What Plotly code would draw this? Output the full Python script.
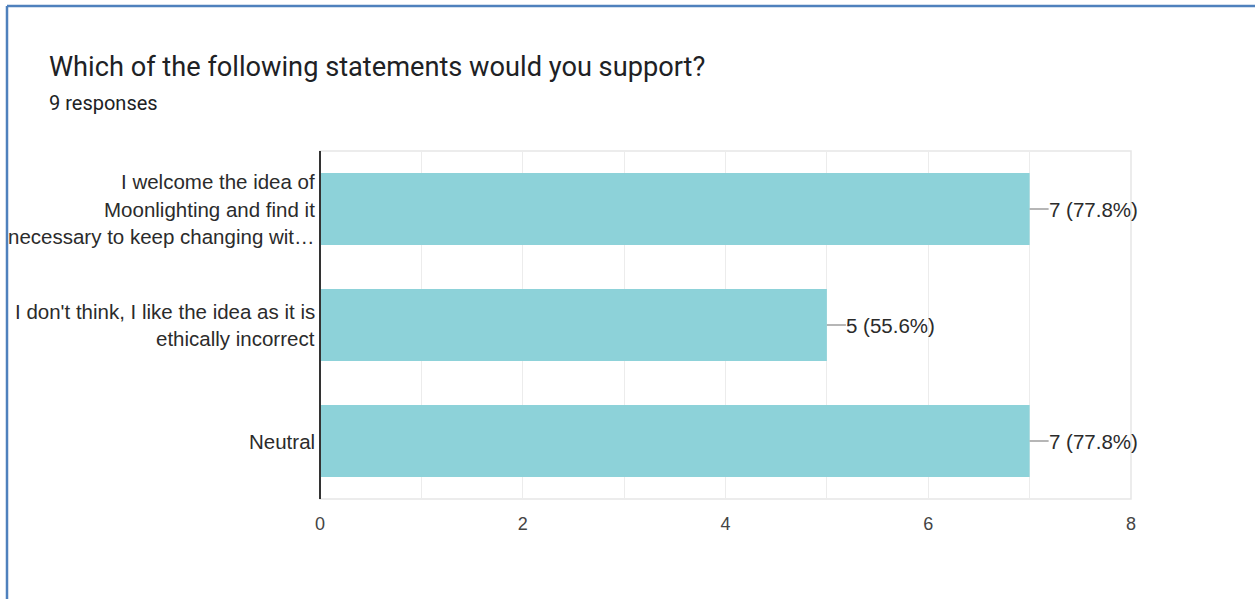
import plotly.graph_objects as go

# Survey data
question = "Which of the following statements would you support?"
total_responses = 9
categories = [
    ["I welcome the idea of", "Moonlighting and find it", "necessary to keep changing wit…"],
    ["I don't think, I like the idea as it is", "ethically incorrect"],
    ["Neutral"],
]
counts = [7, 5, 7]
x_ticks = [0, 2, 4, 6, 8]

# Layout constants (pixels)
W, H = 1255, 599
L, R, T, B = 320, 124, 151, 100
PW, PH = W - L - R, H - T - B

BAR_COLOR = "#8dd2d9"
TEXT_COLOR = "#2b2b2b"
LABEL_FONT = "Liberation Sans, Arial, sans-serif"
TITLE_FONT = "Roboto, sans-serif"
LABEL_SIZE = 20.5
LINE_GAP = 27.5

cat_keys = [" ".join(c) for c in categories]

fig = go.Figure(
    go.Bar(
        x=counts,
        y=cat_keys,
        orientation="h",
        marker=dict(color=BAR_COLOR, line=dict(width=0)),
        width=0.62,
        hoverinfo="skip",
    )
)

annotations = []
shapes = []

# Category labels, one annotation per line for wider line spacing
for key, lines in zip(cat_keys, categories):
    n = len(lines)
    for i, line in enumerate(lines):
        annotations.append(dict(
            x=0, y=key, xref="x", yref="y", text=line, showarrow=False,
            xanchor="right", yanchor="middle", xshift=-3,
            yshift=((n - 1) / 2 - i) * LINE_GAP,
            font=dict(family=LABEL_FONT, size=LABEL_SIZE, color=TEXT_COLOR),
        ))

# Value labels with leader lines
for key, v in zip(cat_keys, counts):
    pct = v / total_responses * 100
    shapes.append(dict(
        type="line", xref="x", yref="y", xsizemode="pixel", xanchor=v,
        x0=0, x1=19, y0=key, y1=key,
        line=dict(color="#9e9e9e", width=1.5), layer="above",
    ))
    annotations.append(dict(
        x=v, y=key, xref="x", yref="y", text=f"{v} ({pct:.1f}%)",
        showarrow=False, xanchor="left", yanchor="middle", xshift=17,
        font=dict(family=LABEL_FONT, size=LABEL_SIZE, color=TEXT_COLOR),
    ))

# Title and response count
annotations.append(dict(
    x=(47 - L) / PW, y=(H - B - 67) / PH, xref="paper", yref="paper",
    text=question, showarrow=False, xanchor="left", yanchor="middle",
    font=dict(family=TITLE_FONT, size=27.2, color="#202124"),
))
annotations.append(dict(
    x=(47 - L) / PW, y=(H - B - 103) / PH, xref="paper", yref="paper",
    text=f"{total_responses} responses", showarrow=False,
    xanchor="left", yanchor="middle",
    font=dict(family=TITLE_FONT, size=20, color="#202124"),
))

# Plot area frame
shapes.append(dict(
    type="rect", xref="paper", yref="paper", x0=0, x1=1, y0=0, y1=1,
    line=dict(color="#e6e6e6", width=1.5), layer="below",
))

# Value axis baseline at zero (left edge of the plot area)
shapes.append(dict(
    type="line", xref="paper", yref="paper", x0=0, x1=0, y0=0, y1=1,
    line=dict(color="#333333", width=2), layer="above",
))

# Card border (top and left edges)
border = "#4f81bd"
shapes.append(dict(
    type="line", xref="paper", yref="paper",
    x0=(7 - L) / PW, x1=(W - L) / PW, y0=(H - B - 6) / PH, y1=(H - B - 6) / PH,
    line=dict(color=border, width=2.5),
))
shapes.append(dict(
    type="line", xref="paper", yref="paper",
    x0=(7 - L) / PW, x1=(7 - L) / PW, y0=(H - B - 6) / PH, y1=-B / PH,
    line=dict(color=border, width=2.5),
))

fig.update_layout(
    width=W, height=H,
    margin=dict(l=L, r=R, t=T, b=B, pad=0),
    paper_bgcolor="white", plot_bgcolor="white",
    showlegend=False,
    bargap=0.38,
    annotations=annotations,
    shapes=shapes,
    xaxis=dict(
        range=[0, 8], tickvals=x_ticks, ticktext=[str(t) for t in x_ticks],
        showgrid=True, gridcolor="#ececec", gridwidth=1,
        minor=dict(dtick=1, showgrid=True, gridcolor="#ececec", gridwidth=1),
        zeroline=False, showline=False, ticks="outside", ticklen=8,
        tickcolor="rgba(0,0,0,0)",
        tickfont=dict(family=LABEL_FONT, size=18, color="#444444"),
        fixedrange=True,
    ),
    yaxis=dict(
        categoryorder="array", categoryarray=cat_keys[::-1],
        range=[-0.5, 2.5],
        showticklabels=False, showgrid=False, zeroline=False,
        showline=False,
        fixedrange=True,
    ),
)

fig.write_html("out.html")
